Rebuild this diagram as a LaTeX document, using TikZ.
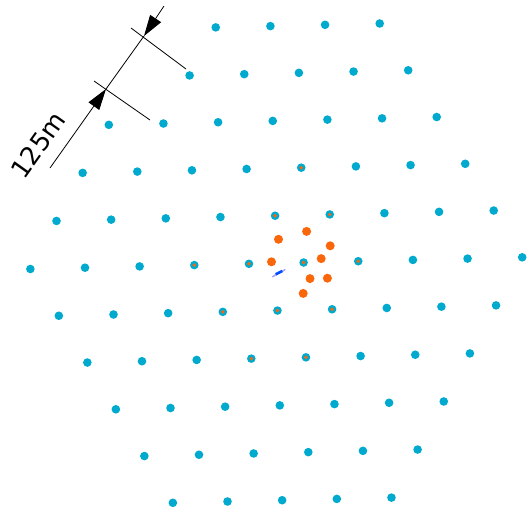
\documentclass[tikz,border=0pt]{standalone}
\usepackage{fontspec}
\setsansfont{DejaVu Sans}
\usetikzlibrary{arrows.meta}

\definecolor{sitecyan}{RGB}{0,170,206}
\definecolor{siteorange}{RGB}{250,102,10}

\begin{document}
\begin{tikzpicture}[
  x=1pt, y=-1pt,
  >={Triangle[length=21pt,width=13pt]},
  station/.style={circle, fill=sitecyan, inner sep=0pt, minimum size=8.6pt},
  shared/.style={circle, fill=siteorange, inner sep=0pt, minimum size=3.8pt},
  extra/.style={circle, fill=siteorange, inner sep=0pt, minimum size=9pt},
  dimline/.style={line width=0.8pt},
  label/.style={font=\sffamily\fontsize{25.5}{30}\selectfont, inner sep=0pt},
]
  \useasboundingbox (0,0) rectangle (527,507);

  % Station lattice, row by row
  \begin{scope}[shift={(303.6,262.5)}, x={(54.65pt,1.3pt)}, y={(-26.15pt,-48.06pt)}]
    \foreach \j/\imin/\imax in {-5/-4/-1, -4/-4/0, -3/-5/1, -2/-5/2, -1/-5/3,
                                0/-5/4, 1/-4/4, 2/-3/4, 3/-2/4, 4/-1/4, 5/0/4}
      \foreach \i in {\imin,...,\imax}
        \node[station] (s\i_\j) at (\i,\j) {};
    % Co-located sites
    \foreach \i/\j in {-1/-2, -1/-1, 0/-1, -2/0, -1/0, 0/0, 1/0,
                       -1/1, 0/1, 1/1, 0/2, 1/2}
      \node[shared] (c\i_\j) at (\i,\j) {};
  \end{scope}

  % Additional sites near the centre
  \foreach \x/\y [count=\k] in {278.5/239.3, 306.6/231.4, 330.2/245.8, 321.2/258.6,
                                271.5/261.8, 310/278.6, 327.4/278.2, 303.2/293.4}
    \node[extra] (e\k) at (\x,\y) {};

  % Small marker
  \draw[line width=1.6pt, blue!35, line cap=round] (272.7,276.7) -- (285,269.7);
  \draw[line width=2.6pt, blue!70!cyan] (275.7,274.3) -- (282.3,271);

  % Spacing dimension
  \coordinate (p1) at (106,89);
  \coordinate (p2) at (144,36);
  \coordinate (tail1) at (50,168);
  \coordinate (tail2) at (164,6);
  \coordinate (t1a) at (94,81);
  \coordinate (t1b) at (150,120);
  \coordinate (t2a) at (131,28);
  \coordinate (t2b) at (186,69);
  \draw[dimline] (t1a) -- (t1b);
  \draw[dimline] (t2a) -- (t2b);
  \draw[dimline] (p1) -- (p2);
  \draw[dimline, ->] (tail1) -- (p1);
  \draw[dimline, ->] (tail2) -- (p2);
  \node[label, rotate=54.5] (dist) at (38,145) {125m};

\end{tikzpicture}
\end{document}
